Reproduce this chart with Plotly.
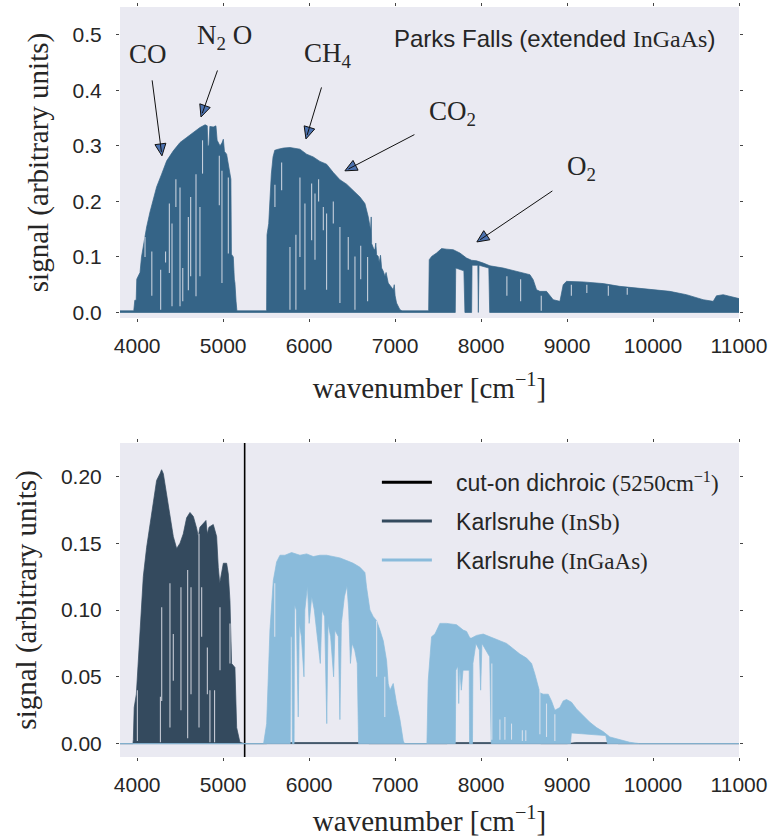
import math
import plotly.graph_objects as go

# ---------------- data ----------------
# Parks Falls spectrum: upper envelope (wavenumber, signal)
pf_upper = [
    (3800, 0.003), (3960, 0.003), (3972, 0.022), (3988, 0.022), (3995, 0.06), (4033, 0.072),
    (4050, 0.10), (4071, 0.118), (4090, 0.14), (4110, 0.154), (4149, 0.181), (4188, 0.205),
    (4226, 0.226), (4284, 0.249), (4343, 0.273), (4420, 0.291), (4498, 0.306), (4575, 0.315),
    (4653, 0.324), (4730, 0.333), (4790, 0.338), (4815, 0.336), (4822, 0.30), (4835, 0.30),
    (4845, 0.335), (4885, 0.334), (4916, 0.336), (4930, 0.31), (4963, 0.30), (4985, 0.305),
    (5002, 0.312), (5015, 0.29), (5040, 0.285), (5079, 0.252), (5090, 0.24), (5096, 0.105),
    (5118, 0.10), (5130, 0.06), (5137, 0.053), (5150, 0.02), (5160, 0.003), (5505, 0.003),
    (5510, 0.14), (5530, 0.16), (5545, 0.214), (5560, 0.249), (5580, 0.28), (5600, 0.292),
    (5640, 0.294), (5700, 0.296), (5777, 0.297), (5850, 0.295), (5893, 0.294), (5971, 0.285),
    (6048, 0.280), (6126, 0.272), (6203, 0.267), (6281, 0.252), (6358, 0.239), (6436, 0.231),
    (6513, 0.220), (6591, 0.208), (6649, 0.196), (6688, 0.172), (6715, 0.148), (6722, 0.172),
    (6727, 0.124), (6750, 0.115), (6765, 0.113), (6775, 0.125), (6785, 0.104), (6804, 0.101),
    (6815, 0.09), (6830, 0.103), (6843, 0.08), (6860, 0.075), (6882, 0.065), (6895, 0.072),
    (6920, 0.053), (6979, 0.041), (6990, 0.05), (7000, 0.03), (7017, 0.017), (7056, 0.005),
    (7080, 0.003), (7390, 0.003), (7397, 0.095), (7425, 0.101), (7482, 0.107), (7540, 0.115),
    (7599, 0.114), (7676, 0.113), (7754, 0.107), (7831, 0.098), (7889, 0.094), (7948, 0.093),
    (8025, 0.089), (8103, 0.084), (8258, 0.080), (8413, 0.074), (8568, 0.068), (8606, 0.059),
    (8645, 0.041), (8684, 0.038), (8761, 0.038), (8839, 0.023), (8917, 0.020), (8955, 0.050),
    (8994, 0.056), (9188, 0.055), (9420, 0.052), (9614, 0.047), (9808, 0.044), (10002, 0.041),
    (10196, 0.038), (10389, 0.032), (10583, 0.023), (10700, 0.020), (10738, 0.030),
    (10816, 0.032), (10971, 0.026), (11000, 0.025),
]
# Parks Falls spectrum: lower envelope (wavenumber, signal)
pf_lower = [
    (3800, 0.0), (7700, 0.0), (7705, 0.08), (7800, 0.075), (7812, 0.0), (7890, 0.0),
    (7895, 0.085), (7962, 0.085), (7968, 0.0), (7976, 0.085), (8090, 0.08), (8100, 0.0),
    (11000, 0.0),
]
# unsaturated gaps inside the Parks Falls bands (wavenumber, low, high)
pf_gaps = [
    (4091, 0.10, 0.136), (4170, 0.03, 0.11), (4273, 0.005, 0.077), (4330, 0.09, 0.11),
    (4374, 0.071, 0.196), (4405, 0.011, 0.16), (4450, 0.19, 0.24), (4498, 0.011, 0.225),
    (4530, 0.02, 0.08), (4595, 0.04, 0.172), (4622, 0.065, 0.208), (4684, 0.029, 0.249),
    (4730, 0.065, 0.19), (4760, 0.25, 0.31), (4955, 0.193, 0.282), (4986, 0.053, 0.255),
    (5060, 0.106, 0.243), (5602, 0.19, 0.23), (5680, 0.22, 0.27), (5777, 0.005, 0.118),
    (5846, 0.005, 0.14), (5893, 0.10, 0.243), (5951, 0.041, 0.196), (6029, 0.13, 0.232),
    (6068, 0.095, 0.214), (6110, 0.2, 0.24), (6165, 0.148, 0.19), (6203, 0.041, 0.178),
    (6281, 0.16, 0.2), (6358, 0.017, 0.154), (6455, 0.077, 0.136), (6533, 0.005, 0.101),
    (6600, 0.06, 0.12), (6680, 0.02, 0.1), (8300, 0.03, 0.065), (8460, 0.02, 0.06),
    (8700, 0.003, 0.03), (9050, 0.03, 0.05), (9230, 0.035, 0.05), (9480, 0.03, 0.048),
    (9700, 0.032, 0.044),
]

# Karlsruhe InSb: upper envelope
ka_insb_upper = [
    (3800, 0.0), (3950, 0.0), (3955, 0.003), (3965, 0.027), (3990, 0.037), (4033, 0.087),
    (4071, 0.125), (4110, 0.147), (4149, 0.165), (4188, 0.182), (4226, 0.197), (4265, 0.202),
    (4284, 0.205), (4304, 0.202), (4343, 0.185), (4381, 0.170), (4420, 0.155), (4459, 0.146),
    (4498, 0.150), (4536, 0.157), (4575, 0.169), (4614, 0.173), (4653, 0.170), (4692, 0.161),
    (4710, 0.155), (4730, 0.162), (4769, 0.165), (4800, 0.167), (4815, 0.157), (4835, 0.162),
    (4885, 0.164), (4924, 0.155), (4943, 0.132), (4960, 0.120), (5002, 0.135), (5040, 0.135),
    (5060, 0.127), (5079, 0.107), (5098, 0.060), (5137, 0.057), (5157, 0.012), (5195, 0.001),
    (5250, 0.0), (5500, 0.0), (5600, 0.0008), (6600, 0.0008), (6700, 0.0), (7600, 0.0),
    (7700, 0.0008), (8600, 0.0008), (8700, 0.0), (9000, 0.0), (9100, 0.0008), (9500, 0.0008),
    (9600, 0.0), (11000, 0.0),
]
ka_insb_lower = [(3800, 0.0), (11000, 0.0)]
ka_insb_gaps = [
    (4002, 0.002, 0.04), (4270, 0.001, 0.035), (4285, 0.032, 0.102), (4381, 0.012, 0.12),
    (4420, 0.047, 0.082), (4509, 0.025, 0.117), (4587, 0.004, 0.13), (4626, 0.037, 0.117),
    (4719, 0.012, 0.157), (4750, 0.08, 0.117), (4816, 0.037, 0.072), (4846, 0.001, 0.04),
    (4900, 0.001, 0.04), (4963, 0.055, 0.102), (5079, 0.06, 0.09),
]

# Karlsruhe InGaAs: upper envelope
ka_ingaas_upper = [
    (3800, 0.0), (5470, 0.0), (5475, 0.002), (5506, 0.015), (5544, 0.085), (5583, 0.122),
    (5622, 0.136), (5661, 0.141), (5719, 0.141), (5796, 0.143), (5893, 0.141), (5971, 0.142),
    (6048, 0.140), (6126, 0.141), (6203, 0.141), (6281, 0.140), (6358, 0.139), (6436, 0.137),
    (6513, 0.135), (6591, 0.132), (6649, 0.128), (6668, 0.117), (6707, 0.100), (6746, 0.095),
    (6785, 0.092), (6823, 0.085), (6862, 0.077), (6901, 0.062), (6920, 0.045), (6940, 0.040),
    (6978, 0.045), (7017, 0.030), (7056, 0.018), (7095, 0.002), (7110, 0.0), (7370, 0.0),
    (7385, 0.047), (7424, 0.080), (7463, 0.082), (7521, 0.090), (7599, 0.090), (7715, 0.089),
    (7792, 0.085), (7831, 0.084), (7870, 0.079), (7889, 0.079), (7947, 0.081), (8025, 0.082),
    (8102, 0.080), (8219, 0.077), (8296, 0.075), (8374, 0.071), (8451, 0.067), (8529, 0.064),
    (8587, 0.060), (8626, 0.052), (8664, 0.042), (8684, 0.038), (8723, 0.037), (8781, 0.037),
    (8819, 0.032), (8858, 0.025), (8916, 0.027), (8955, 0.032), (8994, 0.033), (9052, 0.031),
    (9110, 0.026), (9188, 0.021), (9265, 0.016), (9343, 0.012), (9420, 0.009), (9498, 0.005),
    (9614, 0.003), (9730, 0.001), (9847, 0.0), (11000, 0.0),
]
ka_ingaas_lower = [
    (3800, 0.0), (5780, 0.0), (5785, 0.08), (5800, 0.08), (5805, 0.0), (5825, 0.0),
    (5830, 0.104), (5850, 0.10), (5873, 0.02), (5885, 0.09), (5910, 0.08), (5940, 0.05),
    (5950, 0.10), (5980, 0.118), (6000, 0.09), (6030, 0.11), (6060, 0.10), (6090, 0.085),
    (6130, 0.06), (6150, 0.10), (6180, 0.095), (6205, 0.015), (6220, 0.09), (6250, 0.08),
    (6285, 0.05), (6300, 0.085), (6340, 0.08), (6358, 0.018), (6375, 0.09), (6410, 0.11),
    (6440, 0.118), (6460, 0.10), (6480, 0.06), (6500, 0.075), (6530, 0.07), (6560, 0.06),
    (6575, 0.0), (7700, 0.0), (7707, 0.055), (7730, 0.058), (7740, 0.03), (7750, 0.058),
    (7770, 0.04), (7790, 0.055), (7862, 0.055), (7866, 0.0), (7900, 0.0), (7905, 0.06),
    (7940, 0.075), (7980, 0.07), (7995, 0.04), (8010, 0.075), (8100, 0.065), (8118, 0.0),
    (9040, 0.0), (9050, 0.008), (9450, 0.006), (9470, 0.0), (11000, 0.0),
]
ka_ingaas_gaps = [
    (5600, 0.08, 0.12), (6785, 0.05, 0.092), (6880, 0.02, 0.05), (8125, 0.003, 0.06),
    (8219, 0.003, 0.018), (8277, 0.003, 0.02), (8354, 0.003, 0.015), (8480, 0.002, 0.01),
    (8520, 0.002, 0.01), (8684, 0.007, 0.04), (8761, 0.005, 0.03), (8858, 0.002, 0.022),
]

cut_on_wn = 5250

# species annotations: label, text position, arrow tip, arrow tail offset (px)
species_labels = ["CO", "N<sub>2</sub> O", "CH<sub>4</sub>", "CO<sub>2</sub>", "O<sub>2</sub>"]
species_text_wn = [4126, 5021, 6219, 7672, 9172]
species_text_sig = [0.466, 0.496, 0.464, 0.359, 0.261]
species_tip_wn = [4288, 4742, 5963, 6416, 7951]
species_tip_sig = [0.282, 0.352, 0.3125, 0.255, 0.127]
species_tail_dx = [-10, 17, 16, 71, 77]
species_tail_dy = [-77, -48, -53, -37, -52]

x_ticks = [4000, 5000, 6000, 7000, 8000, 9000, 10000, 11000]
top_y_ticks = [0.0, 0.1, 0.2, 0.3, 0.4, 0.5]
bot_y_ticks = [0.00, 0.05, 0.10, 0.15, 0.20]
x_range = [3800, 11000]
top_y_range = [-0.01, 0.55]
bot_y_range = [-0.01, 0.225]

# ---------------- styling / layout constants ----------------
W, H = 773, 838
M_L, M_R, M_T, M_B = 120, 34, 7, 81
TOP_DOMAIN = [0.5853, 1.0]
BOT_DOMAIN = [0.0, 0.4187]
C_PF = "#356487"
C_INSB = "#344a5e"
C_INGAAS = "#8abbdb"
BG = "#eaeaf2"
TXT = "#262626"
SANS = "Liberation Sans, Arial, sans-serif"
SERIF = "Liberation Serif, Times New Roman, serif"


def band_polygon(upper, lower):
    xs = [p[0] for p in upper] + [p[0] for p in reversed(lower)]
    ys = [p[1] for p in upper] + [p[1] for p in reversed(lower)]
    return xs, ys


def gap_lines(gaps):
    xs, ys = [], []
    for wn, lo, hi in gaps:
        xs += [wn, wn, None]
        ys += [lo, hi, None]
    return xs, ys


fig = go.Figure()

# top panel
px_, py_ = band_polygon(pf_upper, pf_lower)
fig.add_trace(go.Scatter(x=px_, y=py_, mode="lines", fill="toself", fillcolor=C_PF,
                         line=dict(color=C_PF, width=0.7), showlegend=False,
                         hoverinfo="skip", xaxis="x", yaxis="y"))
gx, gy = gap_lines(pf_gaps)
fig.add_trace(go.Scatter(x=gx, y=gy, mode="lines", line=dict(color=BG, width=1.1),
                         opacity=0.8, showlegend=False, hoverinfo="skip",
                         xaxis="x", yaxis="y"))

# bottom panel
fig.add_trace(go.Scatter(x=[cut_on_wn, cut_on_wn], y=bot_y_range, mode="lines",
                         line=dict(color="black", width=1.6), showlegend=False,
                         hoverinfo="skip", xaxis="x2", yaxis="y2"))
bx, by = band_polygon(ka_insb_upper, ka_insb_lower)
fig.add_trace(go.Scatter(x=bx, y=by, mode="lines", fill="toself", fillcolor=C_INSB,
                         line=dict(color=C_INSB, width=0.7), showlegend=False,
                         hoverinfo="skip", xaxis="x2", yaxis="y2"))
gx, gy = gap_lines(ka_insb_gaps)
fig.add_trace(go.Scatter(x=gx, y=gy, mode="lines", line=dict(color=BG, width=1.1),
                         opacity=0.8, showlegend=False, hoverinfo="skip",
                         xaxis="x2", yaxis="y2"))
bx, by = band_polygon(ka_ingaas_upper, ka_ingaas_lower)
fig.add_trace(go.Scatter(x=bx, y=by, mode="lines", fill="toself", fillcolor=C_INGAAS,
                         line=dict(color=C_INGAAS, width=0.7), showlegend=False,
                         hoverinfo="skip", xaxis="x2", yaxis="y2"))
gx, gy = gap_lines(ka_ingaas_gaps)
fig.add_trace(go.Scatter(x=gx, y=gy, mode="lines", line=dict(color=BG, width=1.1),
                         opacity=0.8, showlegend=False, hoverinfo="skip",
                         xaxis="x2", yaxis="y2"))

# legend entries
serif_span = "<span style='font-family:Liberation Serif'>"
pad = "\u00a0\u00a0\u00a0"
legend_names = [
    pad + "cut-on dichroic " + serif_span + "(5250cm<sup>−1</sup>)</span>",
    pad + "Karlsruhe " + serif_span + "(InSb)</span>",
    pad + "Karlsruhe " + serif_span + "(InGaAs)</span>",
]
legend_colors = ["black", C_INSB, C_INGAAS]
for i, (nm, col) in enumerate(zip(legend_names, legend_colors)):
    fig.add_trace(go.Scatter(x=[None], y=[None], mode="lines", name=nm,
                             legendgroup=f"g{i}", line=dict(color=col, width=3),
                             xaxis="x2", yaxis="y2"))

annotations = []
for lab, tx, ty in zip(species_labels, species_text_wn, species_text_sig):
    annotations.append(dict(x=tx, y=ty, xref="x", yref="y", text=lab, showarrow=False,
                            font=dict(family=SERIF, size=27, color=TXT)))
for tx, ty, dx, dy in zip(species_tip_wn, species_tip_sig, species_tail_dx, species_tail_dy):
    annotations.append(dict(x=tx, y=ty, xref="x", yref="y", text="", showarrow=True,
                            ax=dx, ay=dy, arrowhead=0, arrowwidth=1, arrowcolor="#111111",
                            standoff=4))
annotations.append(dict(x=8858, y=0.493, xref="x", yref="y", showarrow=False,
                        text="Parks Falls (extended " + serif_span + "InGaAs</span>)",
                        font=dict(family=SANS, size=24, color=TXT)))

# arrow heads as filled triangles (pixel geometry converted to data units)
plot_w = W - M_L - M_R
plot_h_top = (H - M_T - M_B) * (TOP_DOMAIN[1] - TOP_DOMAIN[0])
wn_per_px = (x_range[1] - x_range[0]) / plot_w
sig_per_px = (top_y_range[1] - top_y_range[0]) / plot_h_top
HEAD_LEN, HEAD_HALF = 12.0, 5.5
shapes = []
for tx, ty, dx, dy in zip(species_tip_wn, species_tip_sig, species_tail_dx, species_tail_dy):
    L = math.hypot(dx, dy)
    ux, uy = dx / L, dy / L            # unit vector tip -> tail (screen px, y down)
    bx0, by0 = ux * HEAD_LEN, uy * HEAD_LEN
    nx, ny = -uy, ux
    pts = [(0, 0), (bx0 + nx * HEAD_HALF, by0 + ny * HEAD_HALF),
           (bx0 - nx * HEAD_HALF, by0 - ny * HEAD_HALF)]
    path = ""
    for k, (ox, oy) in enumerate(pts):
        xd = tx + ox * wn_per_px
        yd = ty - oy * sig_per_px
        path += ("M" if k == 0 else "L") + f"{xd:.3f},{yd:.5f}"
    path += "Z"
    shapes.append(dict(type="path", path=path, xref="x", yref="y",
                       fillcolor="#4c72b0", line=dict(color="#111111", width=1)))

axis_common = dict(range=x_range, tickvals=x_ticks, tickformat="d", showgrid=False,
                   zeroline=False, showline=False, ticks="outside", ticklen=3,
                   tickcolor="#444", mirror="ticks", ticklabelstandoff=6,
                   tickfont=dict(family=SANS, size=21, color=TXT))
yaxis_common = dict(showgrid=False, zeroline=False, showline=False, ticks="outside",
                    ticklen=3, tickcolor="#444", mirror="ticks", ticklabelstandoff=10,
                    automargin=False,
                    tickfont=dict(family=SANS, size=21, color=TXT))
fig.update_layout(
    width=W, height=H,
    margin=dict(l=M_L, r=M_R, t=M_T, b=M_B),
    paper_bgcolor="white", plot_bgcolor=BG,
    xaxis=dict(domain=[0, 1], anchor="y", automargin=True,
               title=dict(text="wavenumber [cm<sup>−1</sup>]", standoff=21,
                          font=dict(family=SERIF, size=29, color=TXT)),
               **axis_common),
    yaxis=dict(domain=TOP_DOMAIN, anchor="x", range=top_y_range, tickvals=top_y_ticks,
               tickformat=".1f",
               title=dict(text="signal (arbitrary units)",
                          font=dict(family=SERIF, size=29, color=TXT)),
               **yaxis_common),
    xaxis2=dict(domain=[0, 1], anchor="y2", automargin=False,
                title=dict(text="wavenumber [cm<sup>−1</sup>]",
                           font=dict(family=SERIF, size=29, color=TXT)),
                **axis_common),
    yaxis2=dict(domain=BOT_DOMAIN, anchor="x2", range=bot_y_range, tickvals=bot_y_ticks,
                tickformat=".2f",
                title=dict(text="signal (arbitrary units)",
                           font=dict(family=SERIF, size=29, color=TXT)),
                **yaxis_common),
    legend=dict(x=0.415, y=0.395, xanchor="left", yanchor="top", bgcolor="rgba(0,0,0,0)",
                font=dict(family=SANS, size=23, color=TXT), tracegroupgap=6,
                itemwidth=50),
    annotations=annotations,
    shapes=shapes,
    showlegend=True,
)

fig.write_html("out.html")
